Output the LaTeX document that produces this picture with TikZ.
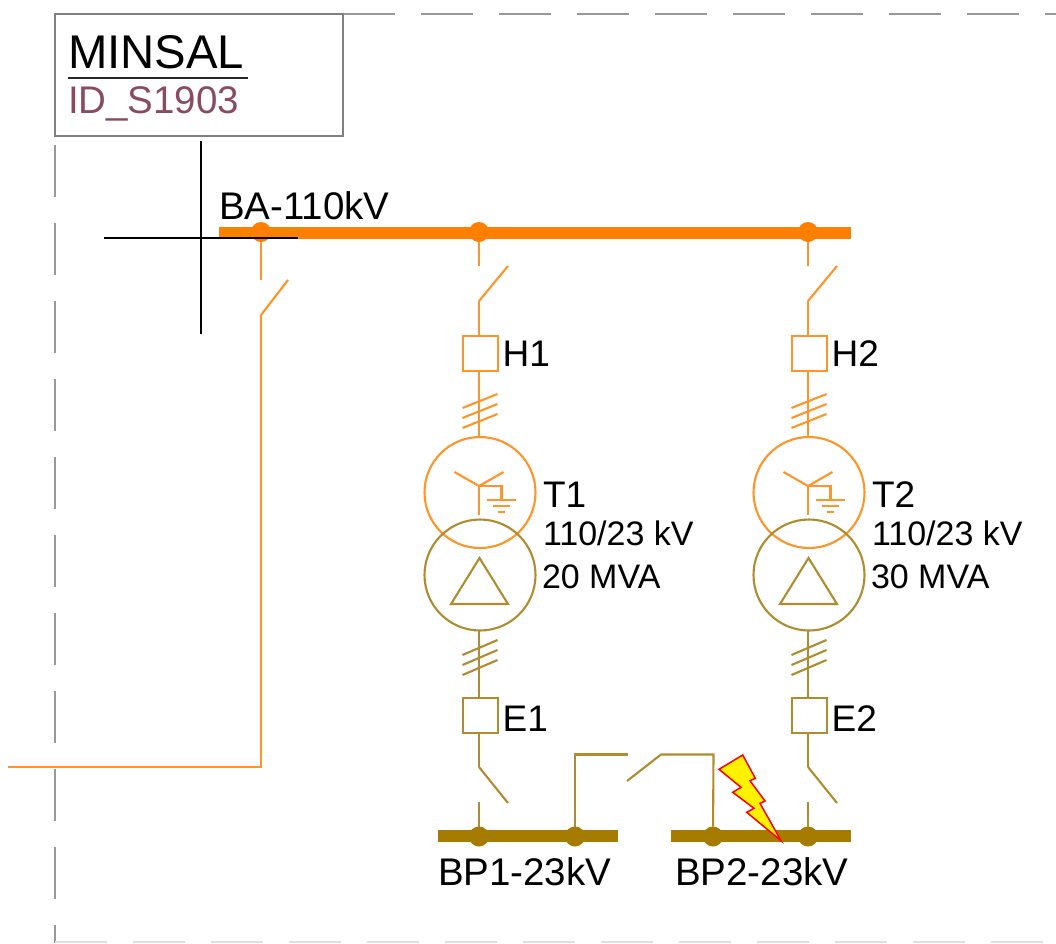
\documentclass[tikz,border=0pt]{standalone}
\usepackage{fontspec}
\setmainfont{Liberation Sans}
\definecolor{hv}{HTML}{FF8000}
\definecolor{hvl}{HTML}{FF9428}
\definecolor{mv}{HTML}{A67C00}
\definecolor{mvl}{HTML}{B08C30}
\definecolor{frameg}{HTML}{808080}
\definecolor{idc}{HTML}{8A4B60}
\tikzset{
  lab/.style={anchor=base west,inner sep=0pt,outer sep=0pt,text=black,font=\fontsize{38.5}{38.5}\selectfont},
  rating/.style={lab,font=\fontsize{34}{34}\selectfont},
  hvline/.style={draw=hvl,line width=2.1pt},
  mvline/.style={draw=mvl,line width=2.1pt},
  hvbus/.style={draw=hv,line width=12pt},
  mvbus/.style={draw=mv,line width=12pt},
  hvdot/.style={circle,fill=hv,minimum size=20pt,inner sep=0pt,outer sep=0pt},
  mvdot/.style={circle,fill=mv,minimum size=20pt,inner sep=0pt,outer sep=0pt},
  hvbox/.style={rectangle,draw=hvl,line width=2.1pt,fill=white,minimum size=35pt,inner sep=0pt,outer sep=0pt},
  mvbox/.style={rectangle,draw=mvl,line width=2.1pt,fill=white,minimum size=35pt,inner sep=0pt,outer sep=0pt},
  hvwind/.style={circle,draw=hvl,line width=2.1pt,minimum size=111pt,inner sep=0pt,outer sep=0pt},
  mvwind/.style={circle,draw=mvl,line width=2.1pt,minimum size=111pt,inner sep=0pt,outer sep=0pt},
  framedash/.style={draw=frameg!80,line width=1.5pt,dash pattern=on 52pt off 26pt},
  cross/.style={draw=black,line width=1.3pt},
}
% #1 bay number, #2 x of the bay axis, #3 rating
\newcommand{\xfbay}[3]{%
  \node[hvdot] (top#1) at (#2,232) {};
  \coordinate (ha#1) at (#2,266);
  \coordinate (hb#1) at (#2,301);
  \coordinate (hc#1) at ([xshift=29pt]ha#1);
  \node[hvbox] (H#1) at (#2+1.2,353.2) {};
  \node[lab,font=\fontsize{37}{37}\selectfont] at ([xshift=5pt,yshift=-13.5pt]H#1.east) {H#1};
  \node[hvwind] (wu#1) at ([xshift=1pt]#2,492.5) {};
  \node[mvwind] (wl#1) at ([xshift=1pt]#2,575) {};
  \node[mvbox] (E#1) at (#2+1.2,715.5) {};
  \node[lab,font=\fontsize{37}{37}\selectfont] at ([xshift=5pt,yshift=-15.5pt]E#1.east) {E#1};
  \coordinate (la#1) at (#2,767);
  \coordinate (lb#1) at (#2,802);
  \coordinate (lc#1) at ([xshift=29pt,yshift=-1pt]lb#1);
  \node[mvdot] (bot#1) at (#2,836.5) {};
  \draw[hvline] (top#1) -- (ha#1);
  \draw[hvline] (hb#1) -- (hc#1);
  \draw[hvline] (hb#1) -- (H#1.north -| hb#1);
  \draw[hvline] (H#1.south -| hb#1) -- (wu#1.north -| hb#1);
  \draw[mvline] (wl#1.south -| hb#1) -- (E#1.north -| hb#1);
  \draw[mvline] (E#1.south -| la#1) -- (la#1);
  \draw[mvline] (la#1) -- (lc#1);
  \draw[mvline] (lb#1) -- (bot#1);
  % cable ticks
  \foreach \d in {0,10,20}{
    \draw[hvline] (#2-16.5,408+\d) -- ++(35,-14);
    \draw[mvline] (#2-16.5,655+\d) -- ++(35,-15);
  }
  % star with earth
  \begin{scope}[shift={(#2,486)}]
    \draw[hvline] (-24.5,-14) -- (0,0) -- (24.5,-14);
    \draw[hvline] (0,0) -- (0,29);
    \draw[hvline] (0,0) -- (22.5,0) -- (22.5,14);
    \draw[hvline] (7.5,14) -- (37,14);
    \draw[hvline] (13.5,20) -- (31,20);
    \draw[hvline] (19,26) -- (26,26);
  \end{scope}
  % delta
  \draw[mvline,line join=miter] (#2+0.5,558) -- (#2+29,604) -- (#2-28,604) -- cycle;
  \node[lab,font=\fontsize{37}{37}\selectfont] (T#1) at (#2+64,507) {T#1};
  \node[rating] at (#2+64,545) {110/23 kV};
  \node[rating] at (#2+63,588) {#3};
}
\begin{document}
\begin{tikzpicture}[x=1pt,y=-1pt]
\useasboundingbox (0,0) rectangle (1056,943);
\fill[white] (0,0) rectangle (1056,943);
% dashed frame
\coordinate (fl0) at (55,145);
\coordinate (fl1) at (55,943);
\coordinate (ft0) at (343,14);
\coordinate (ft1) at (1056,14);
\coordinate (fb0) at (55,942);
\coordinate (fb1) at (1056,942);
\draw[framedash] (fl0) -- (fl1);
\draw[framedash] (ft0) -- (ft1);
\draw[framedash,draw=frameg!25] (fb0) -- (fb1);
% title box
\node[rectangle,draw=frameg,line width=1.5pt,fill=white,minimum width=288pt,minimum height=122pt,inner sep=0pt] (title) at (199,75) {};
\node[lab,font=\fontsize{47.3}{47}\selectfont] (minsal) at (68,68) {MINSAL};
\node[lab,text=idc] (idnode) at (68,113) {ID\_S1903};
\coordinate (ula) at (68,78);
\coordinate (ulb) at (248,78);
\draw[draw=black!85,line width=2pt] (ula) -- (ulb);
% HV bus
\coordinate (ba0) at (219,232.5);
\coordinate (ba1) at (851,232.5);
\draw[hvbus] (ba0) -- (ba1);
\node[lab] (balab) at (219,219) {BA-110kV};
\node[hvdot] (top0) at (261,232) {};
\coordinate (fa) at (261,280);
\coordinate (fb) at (261,315);
\coordinate (fc) at (288,280);
\coordinate (fd) at (261,767);
\coordinate (fe) at (8,767);
\draw[hvline] (top0) -- (fa);
\draw[hvline] (fb) -- (fc);
\draw[hvline] (fb) -- (fd) -- (fe);
% MV buses
\coordinate (bp1a) at (438,835.5);
\coordinate (bp1b) at (618,835.5);
\coordinate (bp2a) at (670.5,835.5);
\coordinate (bp2b) at (851,835.5);
\draw[mvbus] (bp1a) -- (bp1b);
\draw[mvbus] (bp2a) -- (bp2b);
\node[lab] (bp1lab) at (438,885) {BP1-23kV};
\node[lab] (bp2lab) at (675,885) {BP2-23kV};
% bays
\xfbay{1}{479}{20 MVA}
\xfbay{2}{808}{30 MVA}
% coupler
\node[mvdot] (c1) at (575,836.5) {};
\node[mvdot] (c2) at (713,836.5) {};
\coordinate (ca) at (575,754.5);
\coordinate (cb) at (628,754.5);
\coordinate (cc) at (627,781);
\coordinate (cd) at (661,754.5);
\coordinate (ce) at (713.5,754.5);
\draw[mvline] (c1) -- (ca) -- (cb);
\draw[mvline] (cc) -- (cd) -- (ce) -- (c2);
% fault flash
\draw[draw=red,fill=yellow,line width=1.5pt,line join=miter]
  (742.7,755) -- (719,769.3) -- (741,787.3) -- (732.7,792.3) -- (754,808.3) -- (746.7,812.3)
  -- (781,840.7) -- (760,803.3) -- (765,801) -- (750,780.7) -- (755.3,778.3) -- cycle;
% crosshair
\coordinate (xa) at (201,141);
\coordinate (xb) at (201,334);
\coordinate (xc) at (104,238);
\coordinate (xd) at (298,238);
\draw[cross] (xa) -- (xb);
\draw[cross] (xc) -- (xd);
\end{tikzpicture}
\end{document}
